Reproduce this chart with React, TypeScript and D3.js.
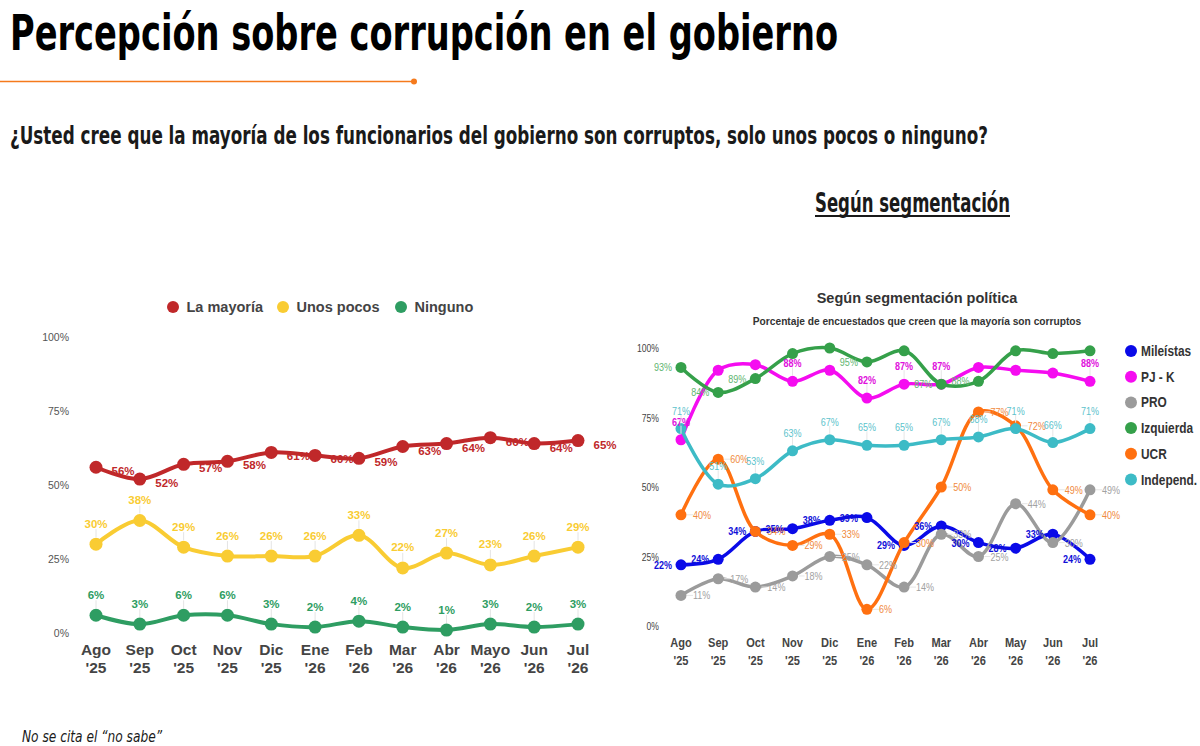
import * as d3 from "d3";
import type { ReactNode } from "react";

const monthsLeft = ["Ago", "Sep", "Oct", "Nov", "Dic", "Ene", "Feb", "Mar", "Abr", "Mayo", "Jun", "Jul"];
const monthsRight = ["Ago", "Sep", "Oct", "Nov", "Dic", "Ene", "Feb", "Mar", "Abr", "May", "Jun", "Jul"];
const years = ["'25", "'25", "'25", "'25", "'25", "'26", "'26", "'26", "'26", "'26", "'26", "'26"];
const yTicks = [0, 25, 50, 75, 100];

const mayoria = [56, 52, 57, 58, 61, 60, 59, 63, 64, 66, 64, 65];
const unosPocos = [30, 38, 29, 26, 26, 26, 33, 22, 27, 23, 26, 29];
const ninguno = [6, 3, 6, 6, 3, 2, 4, 2, 1, 3, 2, 3];

const mileistas = [22, 24, 34, 35, 38, 39, 29, 36, 30, 28, 33, 24];
const pjk = [67, 92, 94, 88, 92, 82, 87, 87, 93, 92, 91, 88];
const pro = [11, 17, 14, 18, 25, 22, 14, 33, 25, 44, 30, 49];
const izquierda = [93, 84, 89, 98, 100, 95, 99, 87, 88, 99, 98, 99];
const ucr = [40, 60, 34, 29, 33, 6, 30, 50, 77, 72, 49, 40];
const independ = [71, 51, 53, 63, 67, 65, 65, 67, 68, 71, 66, 71];

const leftSeries = [
  { name: "La mayoría", values: mayoria, color: "#c0282a", label: "right" },
  { name: "Unos pocos", values: unosPocos, color: "#f9cc33", label: "above" },
  { name: "Ninguno", values: ninguno, color: "#2e9d62", label: "above" },
];
const leftLegendX = [173, 283, 401];

const rightSeries = [
  { name: "Mileístas", values: mileistas, color: "#0a0ae8", text: "#1010d8", bold: true, label: "left" },
  { name: "PJ - K", values: pjk, color: "#f50cf0", text: "#e010dc", bold: true, label: "above" },
  { name: "PRO", values: pro, color: "#9b9b9b", text: "#a2a2a2", bold: false, label: "right" },
  { name: "Izquierda", values: izquierda, color: "#35a04a", text: "#62b672", bold: false, label: "left" },
  { name: "UCR", values: ucr, color: "#ff7010", text: "#f08a40", bold: false, label: "right" },
  { name: "Independ.", values: independ, color: "#3dbbc6", text: "#5cc3cc", bold: false, label: "above" },
];

const SANS = "'Liberation Sans', Arial, sans-serif";
const CONDENSED = "'DejaVu Sans Condensed', 'Liberation Sans Narrow', sans-serif";

// Arial-like text squeezed horizontally, to stand in for a narrow face
function NText({
  x, y, size, children, anchor = "start", weight = "normal", fill = "#333", sx = 0.82,
}: {
  x: number; y: number; size: number; children: ReactNode; anchor?: string; weight?: string; fill?: string; sx?: number;
}) {
  return (
    <text
      transform={`translate(${x},${y}) scale(${sx},1)`}
      textAnchor={anchor}
      fontFamily={SANS}
      fontWeight={weight}
      fontSize={size}
      fill={fill}
    >
      {children}
    </text>
  );
}

export default function App() {
  // left chart
  const xL = d3.scalePoint<string>().domain(monthsLeft).range([96, 578]);
  const yL = d3.scaleLinear().domain([0, 100]).range([633, 337]);
  const lineL = d3
    .line<number>()
    .x((_, i) => xL(monthsLeft[i]) as number)
    .y((d) => yL(d))
    .curve(d3.curveCatmullRom.alpha(0.5));

  // right chart
  const xR = d3.scalePoint<string>().domain(monthsRight).range([681, 1090]);
  const yR = d3.scaleLinear().domain([0, 100]).range([626, 348]);
  const lineR = d3
    .line<number>()
    .x((_, i) => xR(monthsRight[i]) as number)
    .y((d) => yR(d))
    .curve(d3.curveCatmullRom.alpha(0.5));

  return (
    <svg width={1200} height={746} style={{ position: "absolute", left: 0, top: 0, background: "#fff" }}>
      <rect width={1200} height={746} fill="#fff" />

      {/* header */}
      <text x={10} y={50} fontFamily={CONDENSED} fontWeight="bold" fontSize={50} fill="#000" textLength={828} lengthAdjust="spacingAndGlyphs">
        Percepción sobre corrupción en el gobierno
      </text>
      <line x1={0} x2={414} y1={81.5} y2={81.5} stroke="#f57a1c" strokeWidth={1.6} />
      <circle cx={414} cy={81.5} r={3} fill="#f57a1c" />
      <text x={10} y={144} fontFamily={CONDENSED} fontWeight="bold" fontSize={25} fill="#1a1a1a" textLength={978} lengthAdjust="spacingAndGlyphs">
        ¿Usted cree que la mayoría de los funcionarios del gobierno son corruptos, solo unos pocos o ninguno?
      </text>
      <text x={815} y={212} fontFamily={CONDENSED} fontWeight="bold" fontSize={26} fill="#1a1a1a" textLength={195} lengthAdjust="spacingAndGlyphs">
        Según segmentación
      </text>
      <line x1={815} x2={1010} y1={216} y2={216} stroke="#1a1a1a" strokeWidth={2} />

      {/* left legend */}
      {leftSeries.map((s, i) => {
        const cx = leftLegendX[i];
        return (
          <g key={s.name}>
            <circle cx={cx} cy={307} r={6} fill={s.color} />
            <text x={cx + 13.5} y={312} fontFamily={SANS} fontWeight="bold" fontSize={14.5} fill="#444">
              {s.name}
            </text>
          </g>
        );
      })}

      {/* left y axis */}
      {yTicks.map((t) => (
        <text key={t} x={69} y={yL(t) + 4} textAnchor="end" fontFamily={SANS} fontSize={10.5} fill="#555">
          {t}%
        </text>
      ))}

      {/* left x axis */}
      {monthsLeft.map((m, i) => (
        <text key={m} x={xL(m)} y={655} textAnchor="middle" fontFamily={SANS} fontWeight="bold" fontSize={15.5} fill="#444">
          <tspan x={xL(m)}>{m}</tspan>
          <tspan x={xL(m)} dy={18}>{years[i]}</tspan>
        </text>
      ))}

      {/* left lines */}
      {leftSeries.map((s) => (
        <g key={s.name}>
          <path d={lineL(s.values) || ""} fill="none" stroke={s.color} strokeWidth={4} />
          {s.values.map((v, i) => (
            <circle key={i} cx={xL(monthsLeft[i])} cy={yL(v)} r={6.5} fill={s.color} />
          ))}
        </g>
      ))}
      {leftSeries.map((s) => (
        <g key={s.name + "-lab"}>
          {s.values.map((v, i) => {
            const x = xL(monthsLeft[i]) as number;
            const y = yL(v);
            if (s.label === "right") {
              return (
                <text key={i} x={x + 27} y={y + 8} textAnchor="middle" fontFamily={SANS} fontWeight="bold" fontSize={11.5} fill={s.color}>
                  {v}%
                </text>
              );
            }
            return (
              <g key={i}>
                <line x1={x} x2={x} y1={y - 7} y2={y - 15} stroke="#e4e4e4" strokeWidth={1} />
                <text x={x} y={y - 16.5} textAnchor="middle" fontFamily={SANS} fontWeight="bold" fontSize={11.5} fill={s.color}>
                  {v}%
                </text>
              </g>
            );
          })}
        </g>
      ))}

      {/* right chart titles */}
      <text x={917} y={303} textAnchor="middle" fontFamily={SANS} fontWeight="bold" fontSize={14.5} fill="#333">
        Según segmentación política
      </text>
      <text x={917} y={325} textAnchor="middle" fontFamily={SANS} fontWeight="bold" fontSize={10.2} fill="#333">
        Porcentaje de encuestados que creen que la mayoría son corruptos
      </text>

      {/* right legend */}
      {rightSeries.map((s, i) => {
        const cy = 351 + i * 25.7;
        return (
          <g key={s.name}>
            <circle cx={1131} cy={cy} r={6} fill={s.color} />
            <NText x={1141} y={cy + 5} size={14.5} weight="bold" fill="#333">
              {s.name}
            </NText>
          </g>
        );
      })}

      {/* right y axis */}
      {yTicks.map((t) => (
        <NText key={t} x={659} y={yR(t) + 4} size={10.5} anchor="end" fill="#444">
          {t}%
        </NText>
      ))}

      {/* right x axis */}
      {monthsRight.map((m, i) => (
        <g key={m}>
          <NText x={xR(m) as number} y={647} size={13.5} anchor="middle" weight="bold" fill="#444">
            {m}
          </NText>
          <NText x={xR(m) as number} y={665} size={13.5} anchor="middle" weight="bold" fill="#444">
            {years[i]}
          </NText>
        </g>
      ))}

      {/* right lines */}
      {rightSeries.map((s) => (
        <g key={s.name}>
          <path d={lineR(s.values) || ""} fill="none" stroke={s.color} strokeWidth={3.5} />
          {s.values.map((v, i) => (
            <circle key={i} cx={xR(monthsRight[i])} cy={yR(v)} r={5.5} fill={s.color} />
          ))}
        </g>
      ))}
      {rightSeries.map((s) => (
        <g key={s.name + "-lab"}>
          {s.values.map((v, i) => {
            const x = xR(monthsRight[i]) as number;
            const y = yR(v);
            const weight = s.bold ? "bold" : "normal";
            if (s.label === "above") {
              if (y - 17 < 358) return null;
              return (
                <g key={i}>
                  <line x1={x} x2={x} y1={y - 6} y2={y - 14} stroke="#e6e6e6" strokeWidth={1} />
                  <NText x={x} y={y - 14} size={11} anchor="middle" weight={weight} fill={s.text}>
                    {v}%
                  </NText>
                </g>
              );
            }
            if (s.label === "left") {
              if (y < 358) return null;
              return (
                <NText key={i} x={x - 9} y={y + 4} size={11} anchor="end" weight={weight} fill={s.text}>
                  {v}%
                </NText>
              );
            }
            return (
              <g key={i}>
                <line x1={x + 6} x2={x + 12} y1={y} y2={y} stroke="#e6e6e6" strokeWidth={1} />
                <NText x={x + 12} y={y + 4} size={11} weight={weight} fill={s.text}>
                  {v}%
                </NText>
              </g>
            );
          })}
        </g>
      ))}

      {/* footnote */}
      <text x={22} y={742} fontFamily={CONDENSED} fontStyle="italic" fontSize={15} fill="#1a1a1a" textLength={140} lengthAdjust="spacingAndGlyphs">
        No se cita el “no sabe”
      </text>
    </svg>
  );
}
